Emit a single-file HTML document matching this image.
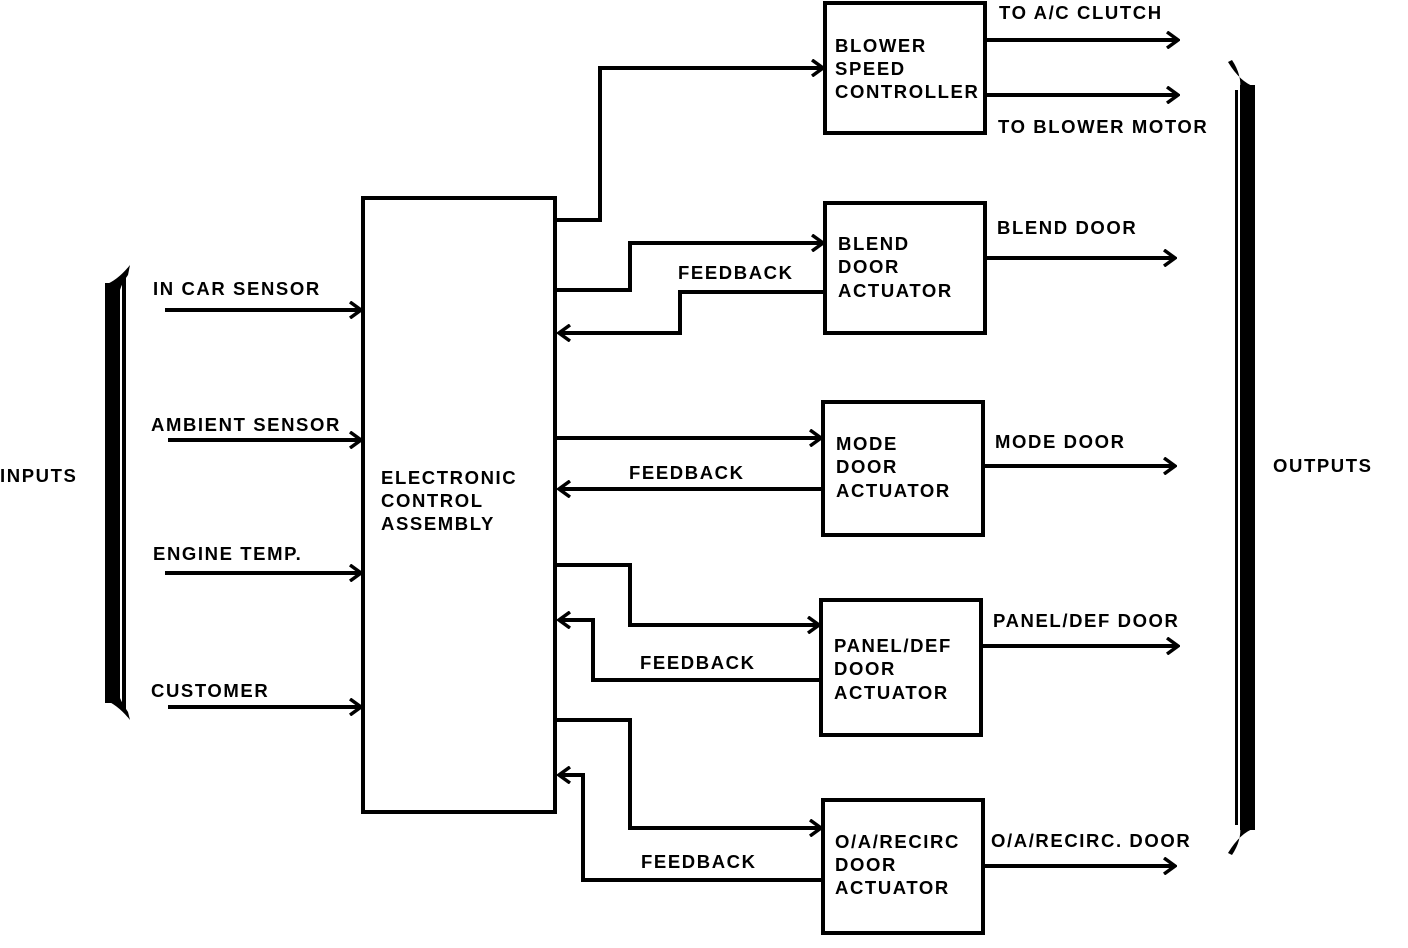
<!DOCTYPE html>
<html><head><style>body{margin:0;background:#fff}svg{display:block}text{font-family:"Liberation Sans",sans-serif;font-weight:bold;font-size:18.5px;letter-spacing:1.6px;fill:#000}</style></head><body>
<svg width="1408" height="948" viewBox="0 0 1408 948">
<defs><marker id="a" markerWidth="14" markerHeight="18" refX="12" refY="9" orient="auto" markerUnits="userSpaceOnUse"><path d="M1,1 L12,9 L1,17" fill="none" stroke="#000" stroke-width="3.5"/></marker></defs>
<g fill="none" stroke="#000" stroke-width="4">
<rect x="363" y="198" width="192" height="614"/>
<rect x="825" y="3" width="160" height="130"/>
<rect x="825" y="203" width="160" height="130"/>
<rect x="823" y="402" width="160" height="133"/>
<rect x="821" y="600" width="160" height="135"/>
<rect x="823" y="800" width="160" height="133"/>
<g marker-end="url(#a)">
<path d="M165,310H361"/><path d="M168,440H361"/><path d="M165,573H361"/><path d="M168,707H361"/>
<path d="M557,220H600V68H823"/>
<path d="M557,290H630V243H823"/><path d="M825,292H680V333H559"/>
<path d="M557,438H821"/><path d="M823,489H559"/>
<path d="M557,565H630V625H819"/><path d="M821,680H593V620H559"/>
<path d="M557,720H630V828H821"/><path d="M823,880H583V775H559"/>
<path d="M985,40H1178"/><path d="M985,95H1178"/><path d="M985,258H1175"/><path d="M983,466H1175"/><path d="M981,646H1178"/><path d="M983,866H1175"/>
</g></g>
<g fill="#000">
<rect x="105" y="283" width="15" height="420"/><rect x="122" y="275" width="4" height="436"/>
<path d="M105,285 Q118,280 130,265 L128,275 Q122,283 120,290Z"/>
<path d="M105,700 Q118,705 130,720 L128,712 Q122,703 120,698Z"/>
<rect x="1240" y="85" width="15" height="745"/><rect x="1235" y="90" width="3" height="735"/>
<path d="M1255,87 Q1240,82 1228,62 L1232,60 Q1242,75 1240,90Z"/>
<path d="M1255,828 Q1240,833 1228,853 L1232,855 Q1242,840 1240,825Z"/>
</g>
<text x="0" y="482">INPUTS</text>
<text x="1273" y="472">OUTPUTS</text>
<text x="153" y="295">IN CAR SENSOR</text>
<text x="151" y="431">AMBIENT SENSOR</text>
<text x="153" y="560">ENGINE TEMP.</text>
<text x="151" y="697">CUSTOMER</text>
<text x="381" y="484">ELECTRONIC</text><text x="381" y="507">CONTROL</text><text x="381" y="530">ASSEMBLY</text>
<text x="835" y="52">BLOWER</text><text x="835" y="75">SPEED</text><text x="835" y="98">CONTROLLER</text>
<text x="838" y="250">BLEND</text><text x="838" y="273">DOOR</text><text x="838" y="297">ACTUATOR</text>
<text x="836" y="450">MODE</text><text x="836" y="473">DOOR</text><text x="836" y="497">ACTUATOR</text>
<text x="834" y="652">PANEL/DEF</text><text x="834" y="675">DOOR</text><text x="834" y="699">ACTUATOR</text>
<text x="835" y="848">O/A/RECIRC</text><text x="835" y="871">DOOR</text><text x="835" y="894">ACTUATOR</text>
<text x="678" y="279">FEEDBACK</text><text x="629" y="479">FEEDBACK</text><text x="640" y="669">FEEDBACK</text><text x="641" y="868">FEEDBACK</text>
<text x="999" y="19">TO A/C CLUTCH</text><text x="998" y="133">TO BLOWER MOTOR</text>
<text x="997" y="234">BLEND DOOR</text><text x="995" y="448">MODE DOOR</text>
<text x="993" y="627">PANEL/DEF DOOR</text><text x="991" y="847">O/A/RECIRC. DOOR</text>
</svg></body></html>
